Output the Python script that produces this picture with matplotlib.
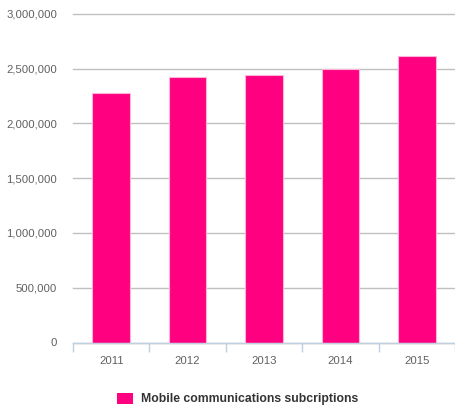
import matplotlib
matplotlib.use("Agg")
import matplotlib.pyplot as plt
from matplotlib.patches import Rectangle
from matplotlib.ticker import FuncFormatter, MultipleLocator

years = ["2011", "2012", "2013", "2014", "2015"]
subscriptions = [2275000, 2421000, 2442000, 2496000, 2610000]
series_name = "Mobile communications subcriptions"
bar_color = "#FF0080"

plt.rcParams["font.family"] = ["Liberation Sans", "DejaVu Sans"]

W, H = 455, 405
fig = plt.figure(figsize=(W / 100, H / 100), dpi=100)
left, right, bottom, top = 73, 455, 342.5, 13.7
ax = fig.add_axes([left / W, (H - bottom) / H, (right - left) / W, (bottom - top) / H])

x = range(len(years))
ax.bar(x, subscriptions, width=0.49, color=bar_color,
       edgecolor="#FFB3D6", linewidth=0.8, label=series_name, zorder=3)

ax.set_xlim(-0.5, len(years) - 0.5)
ax.set_ylim(0, 3000000)
ax.yaxis.set_major_locator(MultipleLocator(500000))
ax.yaxis.set_major_formatter(FuncFormatter(lambda v, p: f"{int(v):,}"))
ax.grid(axis="y", color="#C0C0C0", linewidth=1, zorder=0)
for gl in ax.get_ygridlines():
    gl.set_clip_on(False)

for side in ("top", "right", "left"):
    ax.spines[side].set_visible(False)
ax.spines["bottom"].set_color("#C0D0E0")
ax.spines["bottom"].set_linewidth(1)
ax.spines["bottom"].set_zorder(4)

# category boundaries carry the tick marks, category centres carry the labels
ax.set_xticks([i - 0.5 for i in range(len(years) + 1)], minor=False)
ax.set_xticklabels([])
ax.set_xticks(list(x), minor=True)
ax.set_xticklabels(years, minor=True)
ax.tick_params(axis="x", which="major", length=6.5, width=1, color="#C0D0E0")
ax.tick_params(axis="x", which="minor", length=0, pad=9.5, labelsize=8.2, labelcolor="#606060")
ax.tick_params(axis="y", length=0, pad=11.5, labelsize=8.2, labelcolor="#606060")

# legend: colour swatch and bold series name below the plot
fig.add_artist(Rectangle((117 / W, (H - 404) / H), 16.5 / W, 11.5 / H,
                         transform=fig.transFigure, facecolor=bar_color,
                         edgecolor="none"))
fig.text(141 / W, (H - 399) / H, series_name, ha="left", va="center",
         fontsize=8.8, fontweight="bold", color="#333333")

fig.savefig("out.png", dpi=100)
